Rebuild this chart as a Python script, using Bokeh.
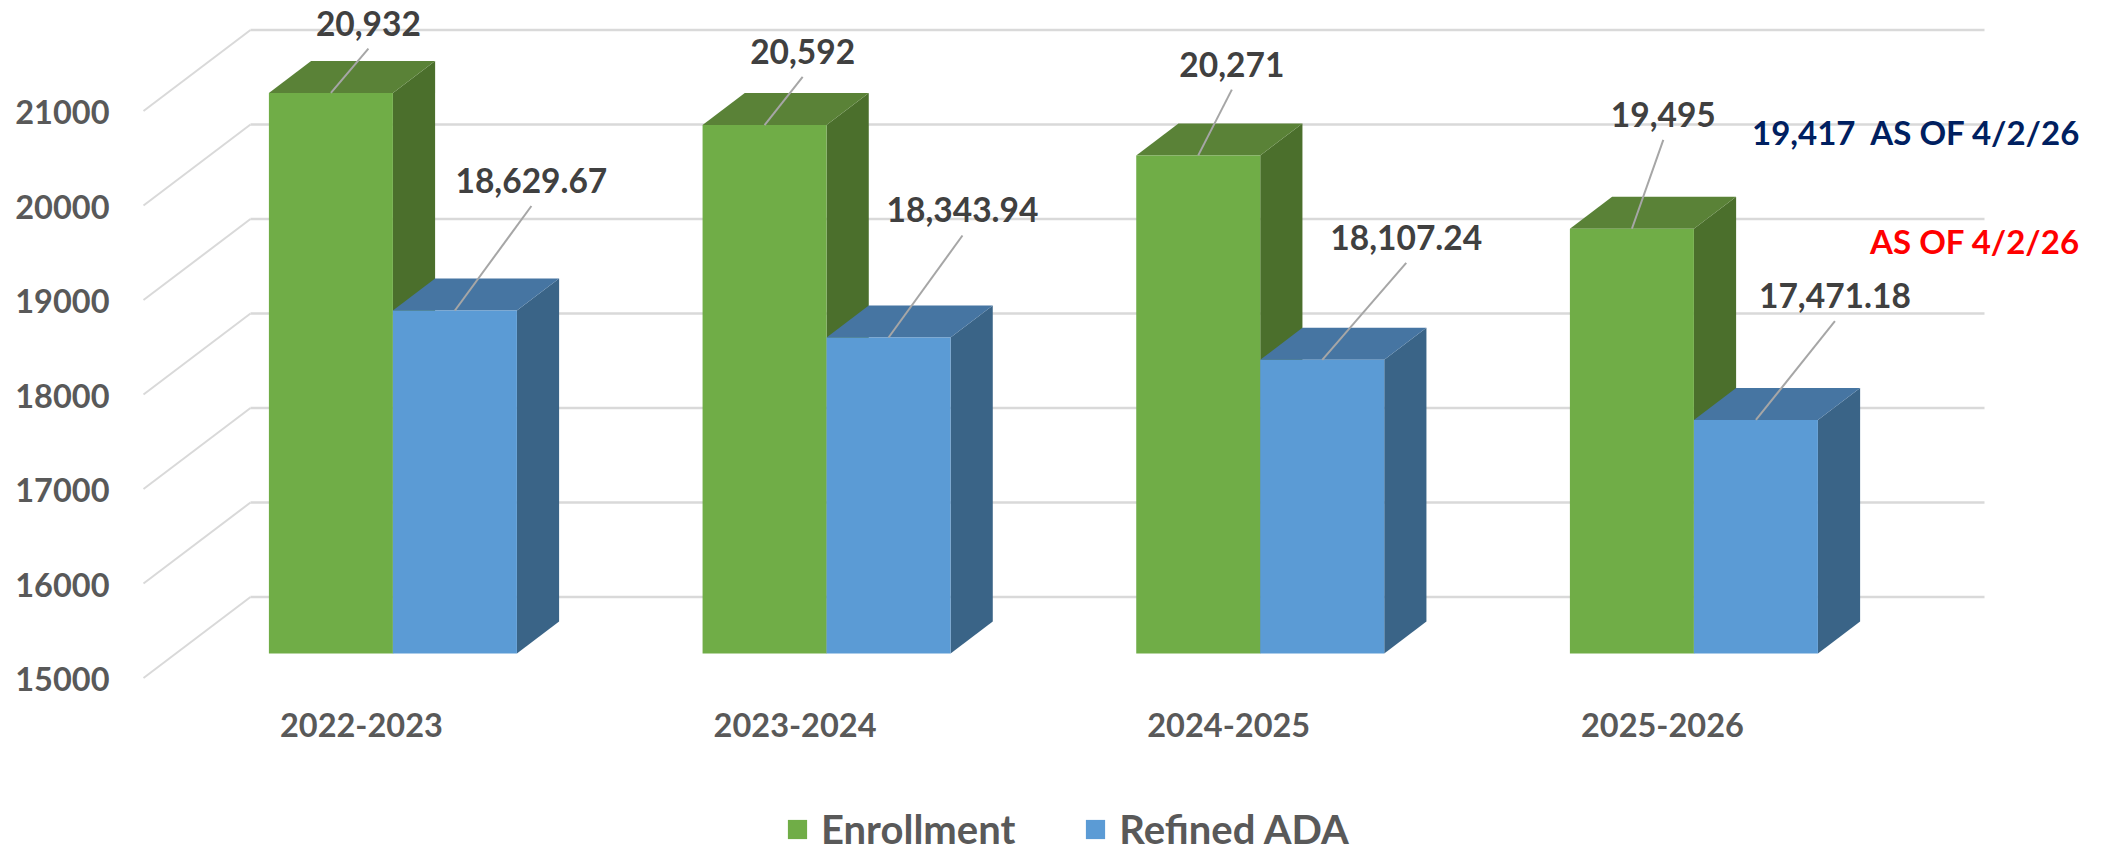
from bokeh.embed import file_html
from bokeh.resources import INLINE
from bokeh.plotting import figure
from bokeh.core.properties import value
from bokeh.models import (FixedTicker, Legend, LegendItem, LinearAxis, Range1d)

# ---- data ----
years = ["2022-2023", "2023-2024", "2024-2025", "2025-2026"]
enrollment = [20932, 20592, 20271, 19495]
refined_ada = [18629.67, 18343.94, 18107.24, 17471.18]
tick_values = [15000, 16000, 17000, 18000, 19000, 20000, 21000]
note_blue = "19,417\u00a0 AS OF 4/2/26"
note_red = "AS OF 4/2/26"

# ---- layout (page pixels) ----
W, H = 2105, 853
F_L, F_R, F_T, F_B = 125, 2105, 0, 853      # frame box
GROUP0_PX, GROUP_STEP = 392.4, 433.67       # centre of first bar pair, pair spacing
BASE_PX, PX_PER_UNIT = 653.0, 0.0945        # y of value 15000 on the bar front plane
BASE_VALUE = 15000
BAR_W = 124.0
DEPTH_X, DEPTH_Y = 42.2, 32.0
GRID_BACK_Y, AXIS_FRONT_Y = 596.5, 677.5
GRID_X0, GRID_X1, SLANT_X0 = 250, 1984, 143
ENR_DX, ENR_DY = [37.5, 38.1, 33.6, 31.4], [69.8, 73.8, 91.3, 114.4]
ADA_DX, ADA_DY = [76.5, 73.9, 84.0, 79.0], [130.0, 127.5, 122.5, 124.3]
LEADER_GAP = 25.5

FONT = value("Lato")
TICK_SIZE = "32.5px"
LABEL_SIZE = "33.5px"
NOTE_SIZE = "33px"

GREEN, GREEN_SIDE, GREEN_TOP = "#70AD47", "#4B6F2C", "#5A8237"
BLUE, BLUE_SIDE, BLUE_TOP = "#5B9BD5", "#3A6487", "#4675A2"


def xu(px):
    return (px - GROUP0_PX) / GROUP_STEP


def yu(px):
    return BASE_VALUE + (BASE_PX - px) / PX_PER_UNIT


DX = DEPTH_X / GROUP_STEP
DY = DEPTH_Y / PX_PER_UNIT
BW = BAR_W / GROUP_STEP

p = figure(width=W, height=H, output_backend="svg", toolbar_location=None,
           x_range=Range1d(xu(F_L), xu(F_R)), y_range=Range1d(yu(F_B), yu(F_T)),
           x_axis_type=None, y_axis_type=None,
           min_border_left=F_L, min_border_right=W - F_R, min_border_top=F_T,
           min_border_bottom=H - F_B, outline_line_color=None,
           background_fill_color="white", border_fill_color="white")
p.grid.visible = False

# axes on shifted scales, because the chart's category and value labels sit on the front plane
tick_shift = (AXIS_FRONT_Y + 1 - BASE_PX) / PX_PER_UNIT
p.extra_y_ranges["ticks"] = Range1d(yu(F_B) + tick_shift, yu(F_T) + tick_shift)
cat_shift = 31.5 / GROUP_STEP
p.extra_x_ranges["cats"] = Range1d(xu(F_L) + cat_shift, xu(F_R) + cat_shift)

yaxis = LinearAxis(y_range_name="ticks", ticker=FixedTicker(ticks=tick_values))
yaxis.major_label_text_font = "Lato"
yaxis.major_label_text_font_style = "bold"
yaxis.major_label_text_font_size = TICK_SIZE
yaxis.major_label_text_color = "#595959"
yaxis.major_label_standoff = 16
yaxis.axis_line_color = None
yaxis.major_tick_line_color = None
yaxis.minor_tick_line_color = None
yaxis.major_tick_out = 0
yaxis.major_tick_in = 0
p.add_layout(yaxis, "left")

xaxis = LinearAxis(x_range_name="cats", ticker=FixedTicker(ticks=list(range(len(years)))))
xaxis.major_label_overrides = {i: y for i, y in enumerate(years)}
xaxis.major_label_text_font = "Lato"
xaxis.major_label_text_font_style = "bold"
xaxis.major_label_text_font_size = TICK_SIZE
xaxis.major_label_text_color = "#595959"
xaxis.major_label_standoff = -141
xaxis.axis_line_color = None
xaxis.major_tick_line_color = None
xaxis.minor_tick_line_color = None
xaxis.major_tick_out = 0
xaxis.major_tick_in = 0
p.add_layout(xaxis, "below")

# back wall gridlines and the slanted floor/wall lines
back_shift = (BASE_PX - GRID_BACK_Y) / PX_PER_UNIT
front_shift = (BASE_PX - AXIS_FRONT_Y) / PX_PER_UNIT
gv_back = [v + back_shift for v in tick_values]
gv_front = [v + front_shift for v in tick_values]
p.segment([xu(GRID_X0)] * len(tick_values), gv_back, [xu(GRID_X1)] * len(tick_values), gv_back,
          line_color="#D9D9D9", line_width=2.5)
p.segment([xu(SLANT_X0)] * len(tick_values), gv_front, [xu(GRID_X0)] * len(tick_values), gv_back,
          line_color="#D9D9D9", line_width=2)


def bar3d(left, vals, front, side, top):
    right = [x + BW for x in left]
    base = [BASE_VALUE] * len(vals)
    p.patches([[r, r + DX, r + DX, r] for r in right],
              [[BASE_VALUE, BASE_VALUE + DY, v + DY, v] for v in vals],
              fill_color=side, line_color=None)
    p.patches([[l, r, r + DX, l + DX] for l, r in zip(left, right)],
              [[v, v, v + DY, v + DY] for v in vals],
              fill_color=top, line_color=None)
    return p.quad(left=left, right=right, bottom=base, top=vals, fill_color=front, line_color=None)


idx = list(range(len(years)))
g_left = [i - BW for i in idx]
b_left = list(idx)
r_green = bar3d(g_left, enrollment, GREEN, GREEN_SIDE, GREEN_TOP)
r_blue = bar3d(b_left, refined_ada, BLUE, BLUE_SIDE, BLUE_TOP)

# data labels and their leader lines
centres = [x + BW / 2 for x in g_left] + [x + BW / 2 for x in b_left]
vals = enrollment + refined_ada
dxs = ENR_DX + ADA_DX
dys = ENR_DY + ADA_DY
texts = [f"{v:,.0f}" for v in enrollment] + [f"{v:,.2f}" for v in refined_ada]
lx = [c + d / GROUP_STEP for c, d in zip(centres, dxs)]
ly = [v + d / PX_PER_UNIT for v, d in zip(vals, dys)]
p.segment(lx, [y - LEADER_GAP / PX_PER_UNIT for y in ly], centres, vals,
          line_color="#A6A6A6", line_width=2)
p.text(x=lx, y=ly, text=texts, text_font=FONT, text_font_style="bold", text_font_size=LABEL_SIZE,
       text_color="#404040", text_align="center", text_baseline="middle")

# hand-written notes
p.text(x=[xu(1751.5)], y=[yu(131)], text=[note_blue], text_font=FONT, text_font_style="bold",
       text_font_size=NOTE_SIZE, text_color="#002060", text_align="left", text_baseline="middle")
p.text(x=[xu(1869.6)], y=[yu(240)], text=[note_red], text_font=FONT, text_font_style="bold",
       text_font_size=NOTE_SIZE, text_color="#FF0000", text_align="left", text_baseline="middle")

legend = Legend(items=[LegendItem(label="Enrollment", renderers=[r_green]),
                       LegendItem(label="Refined ADA", renderers=[r_blue])],
                orientation="horizontal", location=(785 - F_L, 0),
                glyph_width=24, glyph_height=24, label_standoff=12, spacing=68,
                padding=0, margin=0, border_line_color=None, background_fill_alpha=0,
                label_text_font="Lato", label_text_font_style="bold",
                label_text_font_size="40px", label_text_color="#595959")
p.add_layout(legend, "center")

open("out.html", "w").write(file_html(p, INLINE))
